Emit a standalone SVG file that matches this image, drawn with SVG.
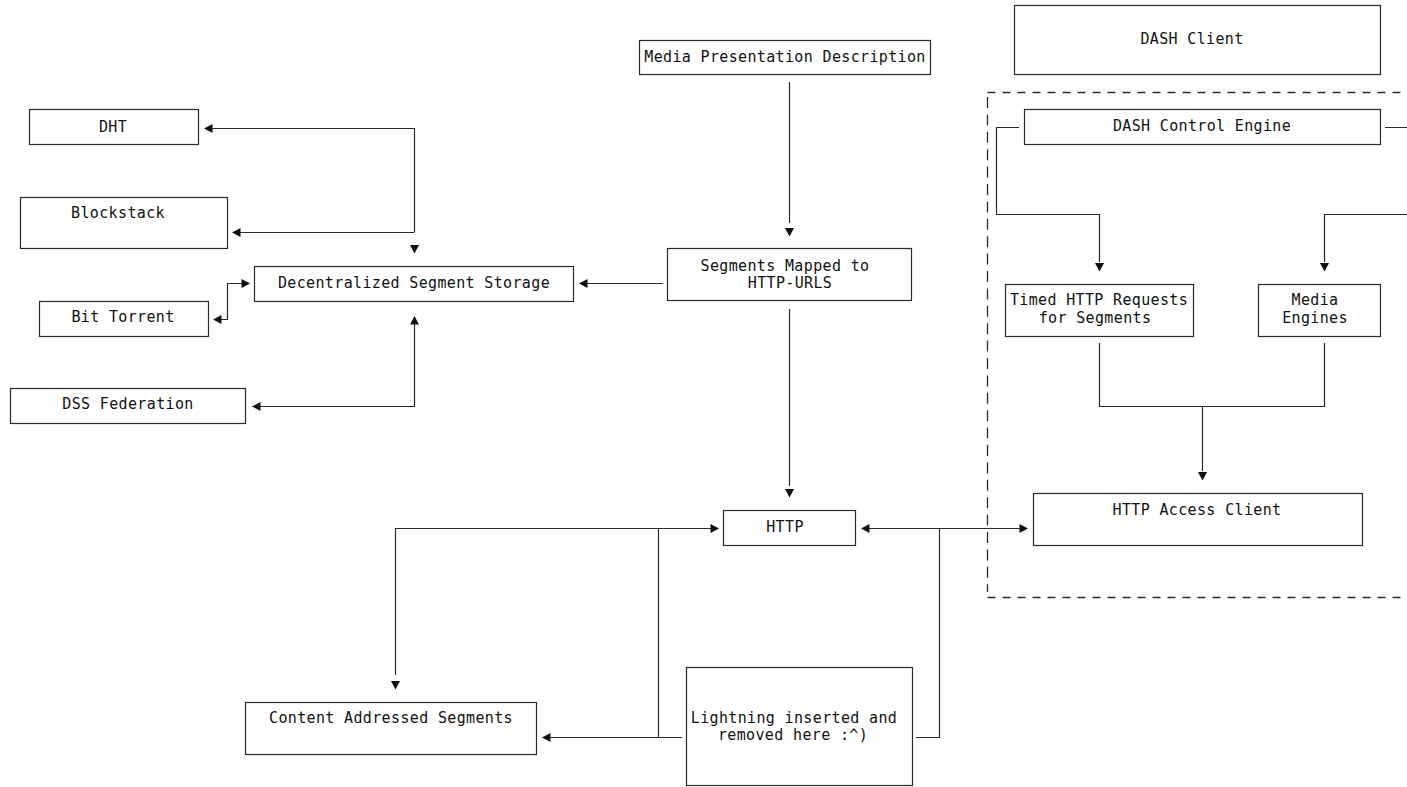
<svg xmlns="http://www.w3.org/2000/svg" xmlns:xlink="http://www.w3.org/1999/xlink" width="1407" height="787" viewBox="0 0 1407 787">
  <style>
    .box { fill: #ffffff; stroke: #2a2a2a; stroke-width: 1.2; }
    .wire { fill: none; stroke: #2a2a2a; stroke-width: 1.2; }
    .bound { fill: none; stroke: #2a2a2a; stroke-width: 1.3; }
    .lbl { font-family: "DejaVu Sans Mono", "Liberation Mono", monospace; font-size: 15px; letter-spacing: 0.35px; fill: #111111; text-anchor: middle; }
    .head { fill: #111111; }
  </style>
  <defs>
    <!-- arrowheads, tip at the origin -->
    <polygon id="ah-down" class="head" points="-4.5,-8.5 4.5,-8.5 0,0"/>
    <polygon id="ah-up" class="head" points="-4.5,8.5 4.5,8.5 0,0"/>
    <polygon id="ah-left" class="head" points="8.5,-4.5 8.5,4.5 0,0"/>
    <polygon id="ah-right" class="head" points="-8.5,-4.5 -8.5,4.5 0,0"/>
  </defs>
  <rect width="1407" height="787" fill="#ffffff"/>

  <!-- DASH client boundary -->
  <g id="dash-client-boundary">
    <path class="bound" d="M987.5 92.5 H1412" stroke-dasharray="8 7"/>
    <path class="bound" d="M987.5 597.5 H1412" stroke-dasharray="8 7"/>
    <path class="bound" d="M987.5 97 V592" stroke-dasharray="11 6.4"/>
  </g>

  <!-- connectors -->
  <g id="connectors">
    <!-- storage back-ends -->
    <path class="wire" d="M212 128.5 H414.5 V232"/>
    <use xlink:href="#ah-left" x="204" y="128.5"/>
    <path class="wire" d="M240 232.5 H414.5"/>
    <use xlink:href="#ah-left" x="232" y="232.5"/>
    <use xlink:href="#ah-down" x="414.5" y="253.5"/>
    <path class="wire" d="M221 319.5 H227.5 V283.5 H242"/>
    <use xlink:href="#ah-left" x="213" y="319.5"/>
    <use xlink:href="#ah-right" x="250" y="283.5"/>
    <path class="wire" d="M260 406.5 H414.5 V324"/>
    <use xlink:href="#ah-left" x="252" y="406.5"/>
    <use xlink:href="#ah-up" x="414.5" y="316"/>
    <path class="wire" d="M587 283.5 H663"/>
    <use xlink:href="#ah-left" x="579" y="283.5"/>

    <!-- MPD to segments to HTTP -->
    <path class="wire" d="M789.5 82 V223"/>
    <use xlink:href="#ah-down" x="789.5" y="236.5"/>
    <path class="wire" d="M789.5 309 V486"/>
    <use xlink:href="#ah-down" x="789.5" y="497.5"/>

    <!-- HTTP fan-out -->
    <path class="wire" d="M395.5 675 V528.5 H711"/>
    <use xlink:href="#ah-right" x="719" y="528.5"/>
    <use xlink:href="#ah-down" x="395.5" y="689.5"/>
    <path class="wire" d="M658.5 528.5 V737.5"/>
    <path class="wire" d="M550 737.5 H682"/>
    <use xlink:href="#ah-left" x="542" y="737.5"/>
    <path class="wire" d="M916 737.5 H939.5 V528.5"/>
    <path class="wire" d="M869 528.5 H1020"/>
    <use xlink:href="#ah-left" x="861" y="528.5"/>
    <use xlink:href="#ah-right" x="1028" y="528.5"/>

    <!-- DASH internals -->
    <path class="wire" d="M1019 127.5 H996.5 V214.5 H1099.5 V262"/>
    <use xlink:href="#ah-down" x="1099.5" y="271.5"/>
    <path class="wire" d="M1385 127.5 H1408.5 V214.5 H1324.5 V262"/>
    <use xlink:href="#ah-down" x="1324.5" y="271.5"/>
    <path class="wire" d="M1099.5 343 V406.5 H1324.5 V343"/>
    <path class="wire" d="M1202.5 406.5 V471"/>
    <use xlink:href="#ah-down" x="1202.5" y="480.5"/>
  </g>

  <!-- nodes -->
  <g id="dht">
    <rect class="box" x="29.5" y="109.5" width="169" height="35"/>
    <text class="lbl" x="113" y="132">DHT</text>
  </g>
  <g id="blockstack">
    <rect class="box" x="20.5" y="197.5" width="207" height="51"/>
    <text class="lbl" x="118" y="218">Blockstack</text>
  </g>
  <g id="decentralized-segment-storage">
    <rect class="box" x="254.5" y="266.5" width="319" height="35"/>
    <text class="lbl" x="414" y="288">Decentralized Segment Storage</text>
  </g>
  <g id="bit-torrent">
    <rect class="box" x="39.5" y="301.5" width="169" height="35"/>
    <text class="lbl" x="123" y="322">Bit Torrent</text>
  </g>
  <g id="dss-federation">
    <rect class="box" x="10.5" y="388.5" width="235" height="35"/>
    <text class="lbl" x="128" y="409">DSS Federation</text>
  </g>
  <g id="media-presentation-description">
    <rect class="box" x="639.5" y="40.5" width="291" height="34"/>
    <text class="lbl" x="785" y="62">Media Presentation Description</text>
  </g>
  <g id="segments-mapped">
    <rect class="box" x="667.5" y="248.5" width="244" height="52"/>
    <text class="lbl" x="785" y="271">Segments Mapped to</text>
    <text class="lbl" x="790" y="288">HTTP-URLS</text>
  </g>
  <g id="dash-client">
    <rect class="box" x="1014.5" y="5.5" width="366" height="69"/>
    <text class="lbl" x="1192" y="44">DASH Client</text>
  </g>
  <g id="dash-control-engine">
    <rect class="box" x="1024.5" y="109.5" width="356" height="35"/>
    <text class="lbl" x="1202" y="131">DASH Control Engine</text>
  </g>
  <g id="timed-http-requests">
    <rect class="box" x="1005.5" y="284.5" width="188" height="52"/>
    <text class="lbl" x="1099" y="305">Timed HTTP Requests</text>
    <text class="lbl" x="1095" y="323">for Segments</text>
  </g>
  <g id="media-engines">
    <rect class="box" x="1258.5" y="284.5" width="122" height="52"/>
    <text class="lbl" x="1315" y="305">Media</text>
    <text class="lbl" x="1315" y="323">Engines</text>
  </g>
  <g id="http-access-client">
    <rect class="box" x="1033.5" y="493.5" width="329" height="52"/>
    <text class="lbl" x="1197" y="515">HTTP Access Client</text>
  </g>
  <g id="http">
    <rect class="box" x="723.5" y="510.5" width="132" height="35"/>
    <text class="lbl" x="785" y="532">HTTP</text>
  </g>
  <g id="content-addressed-segments">
    <rect class="box" x="245.5" y="702.5" width="291" height="52"/>
    <text class="lbl" x="391" y="723">Content Addressed Segments</text>
  </g>
  <g id="lightning">
    <rect class="box" x="686.5" y="667.5" width="226" height="118"/>
    <text class="lbl" x="794" y="723">Lightning inserted and</text>
    <text class="lbl" x="793" y="740">removed here :^)</text>
  </g>
</svg>
